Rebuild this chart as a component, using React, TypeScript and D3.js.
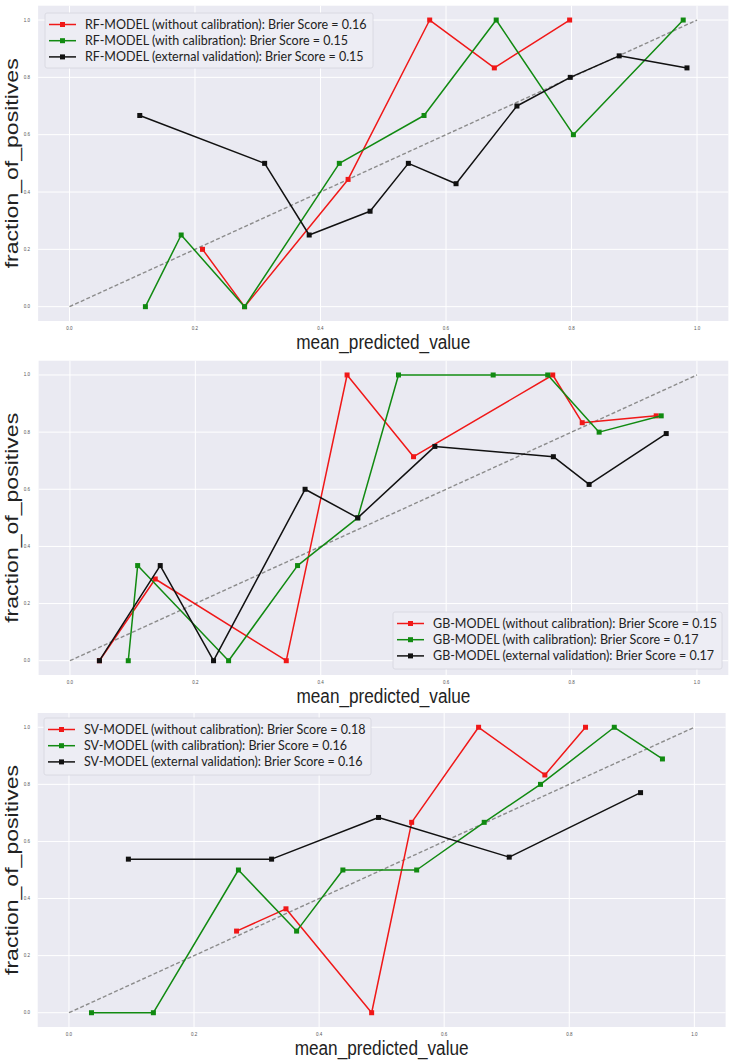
import React from 'react';
import * as d3 from 'd3';

// ---------- data ----------
const tickValues = [0, 0.2, 0.4, 0.6, 0.8, 1.0];
const seriesLabels = ['without calibration', 'with calibration', 'external validation'];
const seriesColors = ['#f01818', '#118a11', '#111111'];

const rfBrier = [0.16, 0.15, 0.15];
const rfUncalX = [0.212, 0.279, 0.444, 0.574, 0.677, 0.797];
const rfUncalY = [0.2, 0.0, 0.444, 1.0, 0.833, 1.0];
const rfCalX = [0.121, 0.178, 0.279, 0.43, 0.565, 0.68, 0.803, 0.978];
const rfCalY = [0.0, 0.25, 0.0, 0.5, 0.667, 1.0, 0.6, 1.0];
const rfExtX = [0.112, 0.311, 0.382, 0.479, 0.54, 0.616, 0.713, 0.798, 0.876, 0.984];
const rfExtY = [0.667, 0.5, 0.25, 0.333, 0.5, 0.429, 0.7, 0.8, 0.875, 0.833];

const gbBrier = [0.15, 0.17, 0.17];
const gbUncalX = [0.047, 0.136, 0.345, 0.442, 0.548, 0.77, 0.817, 0.935];
const gbUncalY = [0.0, 0.286, 0.0, 1.0, 0.714, 1.0, 0.833, 0.857];
const gbCalX = [0.093, 0.108, 0.253, 0.363, 0.459, 0.524, 0.675, 0.762, 0.844, 0.943];
const gbCalY = [0.0, 0.333, 0.0, 0.333, 0.5, 1.0, 1.0, 1.0, 0.8, 0.857];
const gbExtX = [0.047, 0.144, 0.229, 0.375, 0.459, 0.582, 0.771, 0.828, 0.951];
const gbExtY = [0.0, 0.333, 0.0, 0.6, 0.5, 0.75, 0.714, 0.617, 0.795];

const svBrier = [0.18, 0.16, 0.16];
const svUncalX = [0.268, 0.347, 0.484, 0.548, 0.655, 0.761, 0.826];
const svUncalY = [0.286, 0.364, 0.0, 0.667, 1.0, 0.833, 1.0];
const svCalX = [0.036, 0.135, 0.271, 0.364, 0.438, 0.556, 0.664, 0.754, 0.872, 0.949];
const svCalY = [0.0, 0.0, 0.5, 0.286, 0.5, 0.5, 0.667, 0.8, 1.0, 0.889];
const svExtX = [0.095, 0.324, 0.495, 0.704, 0.914];
const svExtY = [0.538, 0.538, 0.684, 0.545, 0.771];

const models = [
  { name: 'RF-MODEL', brier: rfBrier, xs: [rfUncalX, rfCalX, rfExtX], ys: [rfUncalY, rfCalY, rfExtY] },
  { name: 'GB-MODEL', brier: gbBrier, xs: [gbUncalX, gbCalX, gbExtX], ys: [gbUncalY, gbCalY, gbExtY] },
  { name: 'SV-MODEL', brier: svBrier, xs: [svUncalX, svCalX, svExtX], ys: [svUncalY, svCalY, svExtY] },
];

// ---------- layout ----------
const W = 735;
const H = 1063;
const layouts = [
  { left: 38.1, right: 728.4, top: 5.7, bottom: 321, legend: { x: 45, y: 13, w: 328, h: 55 } },
  { left: 38.6, right: 728.3, top: 360.7, bottom: 675, legend: { x: 393, y: 612, w: 329, h: 57 } },
  { left: 37.7, right: 725.6, top: 713, bottom: 1027, legend: { x: 44, y: 718, w: 327, h: 57 } },
];

const BG = '#eaeaf2';
const FONT_LEG = 'Lato, "Open Sans", sans-serif';
const FONT_AX = '"Liberation Sans", Arial, sans-serif';

function Panel({ model, lay }: any) {
  const x = d3.scaleLinear().domain([-0.05, 1.05]).range([lay.left, lay.right]);
  const y = d3.scaleLinear().domain([-0.05, 1.05]).range([lay.bottom, lay.top]);
  const line = d3.line<[number, number]>().x((d) => x(d[0])).y((d) => y(d[1]));
  const fmt = d3.format('.1f');
  const cx = (lay.left + lay.right) / 2;
  const cy = (lay.top + lay.bottom) / 2;
  const L = lay.legend;
  const ms = 5;
  return (
    <g>
      <rect x={lay.left} y={lay.top} width={lay.right - lay.left} height={lay.bottom - lay.top} fill={BG} />
      {tickValues.map((t) => (
        <line key={'gx' + t} x1={x(t)} x2={x(t)} y1={lay.top} y2={lay.bottom} stroke="#fff" strokeWidth={1} />
      ))}
      {tickValues.map((t) => (
        <line key={'gy' + t} x1={lay.left} x2={lay.right} y1={y(t)} y2={y(t)} stroke="#fff" strokeWidth={1} />
      ))}
      {tickValues.map((t) => (
        <text key={'tx' + t} x={x(t)} y={lay.bottom + 9} fontSize={4.5} fill="#555" textAnchor="middle" fontFamily={FONT_AX}>
          {fmt(t)}
        </text>
      ))}
      {tickValues.map((t) => (
        <text key={'ty' + t} x={30} y={y(t) + 1.5} fontSize={4.5} fill="#555" textAnchor="end" fontFamily={FONT_AX}>
          {fmt(t)}
        </text>
      ))}
      <path d={line([[0, 0], [1, 1]]) || ''} stroke="#8c8c8c" strokeWidth={1.4} strokeDasharray="4,2.2" fill="none" />
      {model.xs.map((xs: number[], i: number) => {
        const pts: [number, number][] = xs.map((v, k) => [v, model.ys[i][k]]);
        return (
          <g key={'s' + i}>
            <path d={line(pts) || ''} stroke={seriesColors[i]} strokeWidth={1.5} fill="none" strokeLinejoin="round" />
            {pts.map((p, k) => (
              <rect key={k} x={x(p[0]) - ms / 2} y={y(p[1]) - ms / 2} width={ms} height={ms} fill={seriesColors[i]} />
            ))}
          </g>
        );
      })}
      <text x={cx} y={lay.bottom + 28} fontSize={20} fill="#222" textAnchor="middle" fontFamily={FONT_AX} textLength={174} lengthAdjust="spacingAndGlyphs">
        mean_predicted_value
      </text>
      <text transform={`translate(18,${cy}) rotate(-90)`} fontSize={18} fill="#222" textAnchor="middle" fontFamily={FONT_AX} textLength={210} lengthAdjust="spacingAndGlyphs">
        fraction_of_positives
      </text>
      <rect x={L.x} y={L.y} width={L.w} height={L.h} rx={2} fill="#ededf4" stroke="#d6d6de" strokeWidth={0.8} />
      {seriesLabels.map((lab, i) => {
        const ry = L.y + 11.5 + i * 16.2;
        return (
          <g key={'l' + i}>
            <line x1={L.x + 4} x2={L.x + 31} y1={ry} y2={ry} stroke={seriesColors[i]} strokeWidth={1.5} />
            <rect x={L.x + 17.5 - ms / 2} y={ry - ms / 2} width={ms} height={ms} fill={seriesColors[i]} />
            <text x={L.x + 40} y={ry + 4.3} fontSize={12.5} fill="#222" fontFamily={FONT_LEG}>
              {`${model.name} (${lab}): Brier Score = ${model.brier[i].toFixed(2)}`}
            </text>
          </g>
        );
      })}
    </g>
  );
}

export default function App() {
  return (
    <svg width={W} height={H} style={{ position: 'absolute', left: 0, top: 0, background: '#fff' }}>
      <rect width={W} height={H} fill="#fff" />
      {models.map((m, i) => (
        <Panel key={i} model={m} lay={layouts[i]} />
      ))}
    </svg>
  );
}
